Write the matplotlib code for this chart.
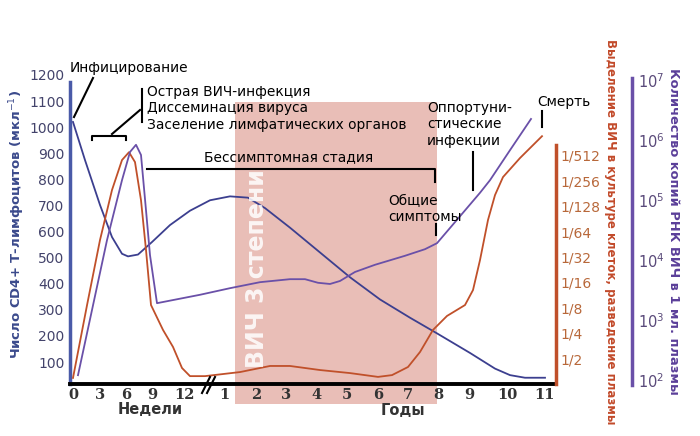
import numpy as np
import matplotlib.pyplot as plt
from matplotlib.lines import Line2D
from matplotlib.patches import Rectangle

plt.rcParams['font.family'] = ['DejaVu Sans']

# time axis: weeks 0-12, then years 1-11 (axis units, break between 12 weeks and 1 year)
tick_pos = [0, 27, 53, 79, 111, 151, 183, 213, 244, 274, 305, 335, 365, 396, 434, 472]
tick_labels = ['0', '3', '6', '9', '12', '1', '2', '3', '4', '5', '6', '7', '8', '9', '10', '11']

# CD4+ T cells (cells per uL)
cd4_x = [0, 12, 27, 39, 49, 55, 65, 79, 97, 117, 137, 157, 175, 192, 217, 247, 277,
         307, 337, 364, 397, 422, 437, 452, 472]
cd4_y = [1020, 874, 702, 579, 515, 505, 512, 560, 625, 680, 720, 735, 730, 690, 615,
         520, 425, 340, 270, 210, 135, 75, 50, 40, 40]

# HIV RNA copies per mL (log10)
rna_x = [5, 34, 49, 57, 63, 68, 73, 77, 84, 127, 157, 187, 217, 232, 245, 257, 267,
         282, 302, 332, 352, 364, 384, 407, 417, 437, 458]
rna_log = [2.08, 4.33, 5.33, 5.8, 5.92, 5.75, 4.83, 4.08, 3.28, 3.42, 3.53, 3.63, 3.68,
           3.68, 3.62, 3.6, 3.65, 3.8, 3.92, 4.07, 4.18, 4.28, 4.67, 5.12, 5.33, 5.83, 6.35]

# culture titer (dilution level: 1 = 1/2 ... 9 = 1/512)
cul_x = [0, 14, 27, 39, 49, 56, 62, 68, 73, 78, 90, 100, 109, 117, 132, 167, 197, 217,
         247, 277, 305, 319, 335, 347, 360, 374, 392, 400, 407, 415, 422, 430, 447, 469]
cul_y = [0.24, 3.1, 5.67, 7.64, 8.82, 9.13, 8.74, 7.24, 5.28, 3.11, 2.13, 1.46, 0.63,
         0.31, 0.31, 0.47, 0.71, 0.71, 0.55, 0.43, 0.28, 0.35, 0.67, 1.26, 2.13, 2.68,
         3.11, 3.7, 4.88, 6.46, 7.44, 8.15, 8.9, 9.76]
cul_labels = ['1/2', '1/4', '1/8', '1/16', '1/32', '1/64', '1/128', '1/256', '1/512']

blue = '#3c3f8f'
red = '#c0502a'
purple = '#6a50a8'

W, H = 700, 436
fig = plt.figure(figsize=(7, 4.36), dpi=100)


def P(x, y):
    return x / W, 1 - y / H


ax = fig.add_axes([70 / W, 52 / H, 486 / W, 309 / H])
ax.set_xlim(-3, 483)
ax.set_ylim(16, 1200)

# stage 3 band
ax.add_patch(Rectangle((162, -60), 202, 1158, facecolor='#e9beb7', edgecolor='none',
                       zorder=0, clip_on=False))

ax.plot(cd4_x, cd4_y, color=blue, lw=1.3, zorder=3)

for s in ['top', 'right']:
    ax.spines[s].set_visible(False)
ax.spines['left'].set_color('#4a5aa8')
ax.spines['left'].set_linewidth(2.5)
ax.spines['left'].set_bounds(16, 1175)
ax.spines['bottom'].set_color('black')
ax.spines['bottom'].set_linewidth(2.8)
ax.set_yticks(range(100, 1300, 100))
ax.tick_params(axis='y', length=0, pad=4, labelsize=10, labelcolor='#43436b')
ax.set_xticks(tick_pos)
ax.set_xticklabels(tick_labels, fontfamily='DejaVu Serif', fontweight='bold',
                   fontsize=10.5, color='#333333')
ax.tick_params(axis='x', length=0, pad=3)

# culture axis
ax2 = ax.twinx()
ax2.set_ylim(0, 12.17)
ax2.plot(cul_x, cul_y, color=red, lw=1.3, zorder=3)
for s in ['top', 'left', 'bottom']:
    ax2.spines[s].set_visible(False)
ax2.spines['right'].set_color(red)
ax2.spines['right'].set_linewidth(2.5)
ax2.spines['right'].set_bounds(0, 9.4)
ax2.set_yticks(range(1, 10))
ax2.set_yticklabels(cul_labels)
ax2.tick_params(axis='y', length=0, pad=3, labelsize=10, labelcolor='#b8683a')

# RNA axis
ax3 = ax.twinx()
ax3.set_yscale('log')
ax3.set_ylim(10 ** 1.933, 10 ** 7.083)
ax3.plot(rna_x, 10 ** np.array(rna_log), color=purple, lw=1.3, zorder=3)
for s in ['top', 'left', 'bottom']:
    ax3.spines[s].set_visible(False)
ax3.spines['right'].set_position(('axes', 562 / 486))
ax3.spines['right'].set_color(purple)
ax3.spines['right'].set_linewidth(2.5)
ax3.spines['right'].set_bounds(10 ** 1.92, 10 ** 7.03)
ax3.set_yticks([10 ** k for k in range(2, 8)])
ax3.set_yticklabels(['$10^{%d}$' % k for k in range(2, 8)])
ax3.minorticks_off()
ax3.tick_params(axis='y', length=0, pad=4, labelsize=10.5, labelcolor='#5a4a7a')

# band label on top of the curves
ax3.text(184, 457, 'ВИЧ 3 степени', transform=ax.transData, rotation=90,
         color='white', alpha=0.85, fontsize=17, fontweight='bold',
         ha='center', va='center', zorder=6)

# axis titles
fig.text(*P(17, 224), 'Число CD4+ T-лимфоцитов (мкл$^{-1}$)', rotation=90,
         color='#3b4a8c', fontsize=9.5, fontweight='bold', ha='center', va='center')
fig.text(*P(611, 232), 'Выделение ВИЧ в культуре клеток, разведение плазмы',
         rotation=-90, color='#c24a2a', fontsize=8.5, fontweight='bold',
         ha='center', va='center')
fig.text(*P(673, 231), 'Количество копий РНК ВИЧ в 1 мл. плазмы', rotation=-90,
         color='#5b3f99', fontsize=9.4, fontweight='bold', ha='center', va='center')
fig.text(*P(150, 409), 'Недели', fontsize=10.5, fontweight='bold', color='#333333',
         ha='center', va='center')
fig.text(*P(403, 410), 'Годы', fontsize=10.5, fontweight='bold', color='#333333',
         ha='center', va='center')

# annotations
notes = [
    (70, 68, 'Инфицирование'),
    (147, 92, 'Острая ВИЧ-инфекция'),
    (147, 108, 'Диссеминация вируса'),
    (147, 125, 'Заселение лимфатических органов'),
    (204, 157, 'Бессимптомная стадия'),
    (388, 201, 'Общие'),
    (388, 217, 'симптомы'),
    (427, 108, 'Оппортуни-'),
    (427, 124, 'стические'),
    (427, 141, 'инфекции'),
    (537, 102, 'Смерть'),
]
for x, y, t in notes:
    fig.text(*P(x, y), t, fontsize=9.9, color='black', ha='left', va='center')

segments = [
    [(93, 78), (74, 117)],
    [(92, 140), (92, 136), (126, 136), (126, 140)],
    [(112, 134), (140, 110)],
    [(142, 89), (142, 122)],
    [(147, 169), (435, 169), (435, 182)],
    [(436, 224), (436, 235)],
    [(473, 152), (473, 190)],
    [(542, 111), (542, 127)],
    [(202, 393), (210, 377)],
    [(207, 393), (215, 377)],
]
for seg in segments:
    xs = [P(*p)[0] for p in seg]
    ys = [P(*p)[1] for p in seg]
    fig.add_artist(Line2D(xs, ys, color='black', lw=1.5))

fig.savefig('out.png', dpi=100)
